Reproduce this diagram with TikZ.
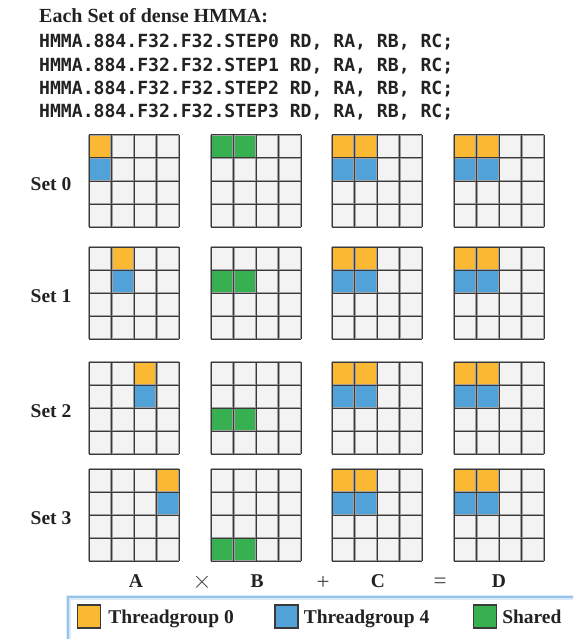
\documentclass[tikz,border=0pt]{standalone}
\usepackage{fontspec}
\setmainfont{Liberation Serif}
\newfontfamily\codefont{DejaVu Sans Mono}
\usetikzlibrary{positioning}
\definecolor{tgzero}{RGB}{251,184,50}
\definecolor{tgfour}{RGB}{80,162,216}
\definecolor{shared}{RGB}{54,176,80}
\definecolor{cellbg}{RGB}{243,243,243}
\definecolor{gridline}{RGB}{58,58,58}
\definecolor{gridhalo}{RGB}{160,160,160}
\definecolor{legendline}{RGB}{150,196,236}
\definecolor{ink}{RGB}{34,34,34}
\tikzset{
  x=1pt,y=-1pt,
  title/.style={font=\fontsize{20}{22}\selectfont\bfseries,text=ink,anchor=base west,inner sep=0},
  codeline/.style={font=\codefont\fontsize{18.1}{20}\selectfont\bfseries,text=ink,anchor=base west,inner sep=0},
  setlabel/.style={font=\fontsize{19.5}{20}\selectfont\bfseries,text=ink,anchor=base,inner sep=0},
  matlabel/.style={font=\fontsize{19.5}{20}\selectfont\bfseries,text=ink,anchor=base,inner sep=0},
  oplabel/.style={font=\fontsize{23}{24}\selectfont,text=ink!85,anchor=base,inner sep=0},
  swatch/.style={draw=gridline,line width=1.1pt,fill=#1,minimum width=23pt,minimum height=23pt,inner sep=0},
  swatch/.default=tgzero,
  legendtext/.style={font=\fontsize{19.5}{20}\selectfont\bfseries,text=ink,inner sep=0,anchor=base west,yshift=-6.5pt},
  paint/.style={fill=#1},
}

\begin{document}
\begin{tikzpicture}
  \useasboundingbox (0,0) rectangle (573,639);
  \clip (0,0) rectangle (573,639);
  % header
  \node[title] (head) at (39,23) {Each Set of dense HMMA:};
  \foreach \k/\b in {0/48,1/71.3,2/94.6,3/118}
    \node[codeline] (code\k) at (39,\b) {HMMA.884.F32.F32.STEP\k{} RD, RA, RB, RC;};
  % the four sets
  \foreach \s/\top in {0/135,1/247,2/362,3/469}{
    \node[setlabel] (set\s) at (51,\top+55) {Set \s};
    \foreach \left in {89,211,332,454}
      \fill[cellbg] (\left,\top) rectangle ++(90,92);
    % A: one column per set
    \fill[paint=tgzero] (89+\s*22.5,\top) rectangle ++(22.5,23);
    \fill[paint=tgfour] (89+\s*22.5,\top+23) rectangle ++(22.5,23);
    % B: one row per set
    \fill[paint=shared] (211,\top+\s*23) rectangle ++(45,23);
    % C and D
    \foreach \left in {332,454}{
      \fill[paint=tgzero] (\left,\top) rectangle ++(45,23);
      \fill[paint=tgfour] (\left,\top+23) rectangle ++(45,23);
    }
    \foreach \left in {89,211,332,454}{
      \foreach \i in {0,...,4}{
        \draw[gridhalo,line width=2.4pt] (\left+\i*22.5,\top) -- ++(0,92);
        \draw[gridhalo,line width=2.4pt] (\left,\top+\i*23) -- ++(90,0);
      }
      \foreach \i in {0,...,4}{
        \draw[gridline,line width=1pt] (\left+\i*22.5,\top) -- ++(0,92);
        \draw[gridline,line width=1pt] (\left,\top+\i*23) -- ++(90,0);
      }
    }
  }
  % bottom row
  \node[matlabel] (mA) at (136,587) {A};
  \node[oplabel] (times) at (202,588) {$\times$};
  \node[matlabel] (mB) at (257,587) {B};
  \node[oplabel] (plus) at (323,589) {+};
  \node[matlabel] (mC) at (378,587) {C};
  \node[oplabel] (equals) at (440,588) {=};
  \node[matlabel] (mD) at (499,587) {D};
  % legend
  \draw[legendline!35,line width=5pt] (68,597) rectangle (620,680);
  \draw[legendline,line width=1.2pt] (68,597) rectangle (620,680);
  \node[swatch=tgzero] (sw0) at (89,616.5) {};
  \node[legendtext,right=7pt of sw0,anchor=base west] (lg0) {Threadgroup 0};
  \node[swatch=tgfour] (sw4) at (286.5,616.5) {};
  \node[legendtext,right=5pt of sw4,anchor=base west] (lg4) {Threadgroup 4};
  \node[swatch=shared] (sws) at (485,616.5) {};
  \node[legendtext,right=5pt of sws,anchor=base west] (lgs) {Shared};
\end{tikzpicture}
\end{document}
